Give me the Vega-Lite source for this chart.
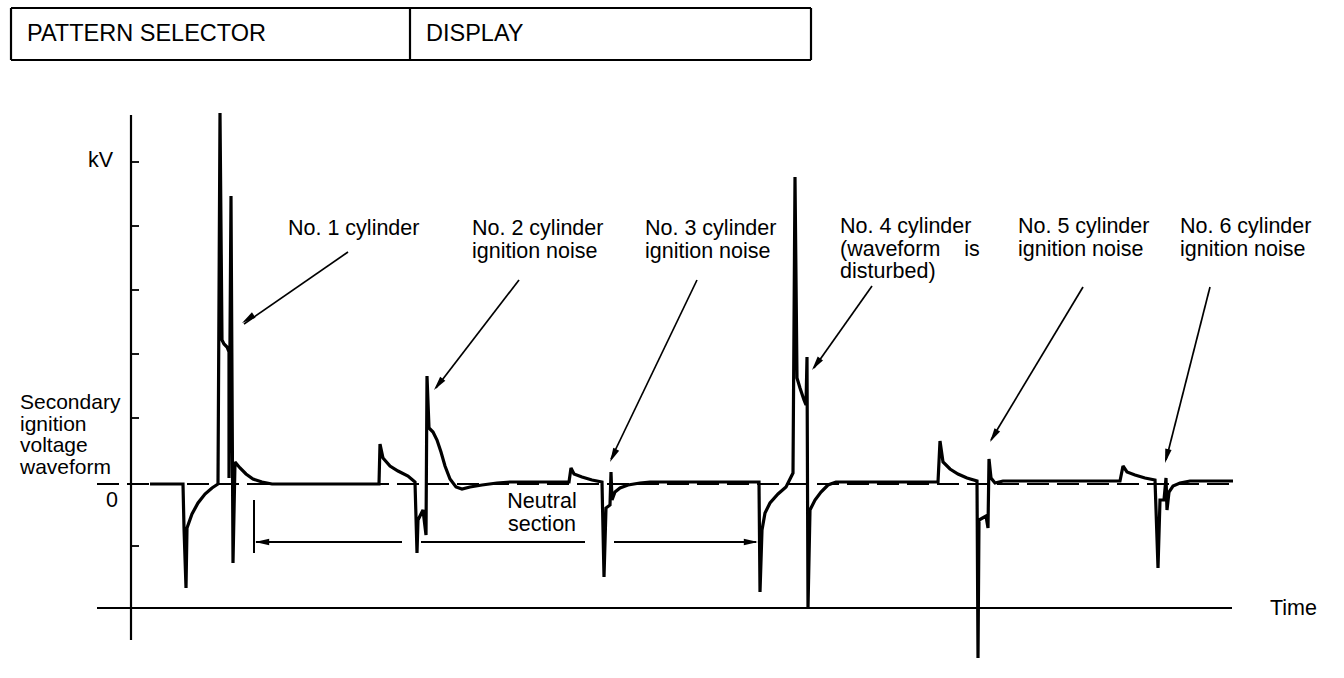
{
  "$schema": "https://vega.github.io/schema/vega-lite/v6.json",
  "width": 1344,
  "height": 678,
  "autosize": "none",
  "padding": 0,
  "background": "white",
  "config": {"view": {"stroke": null}},
  "datasets": {
    "box": [
      {"x1": 11, "y1": 476, "x2": 811, "y2": 476},
      {"x1": 11, "y1": 424, "x2": 811, "y2": 424},
      {"x1": 11, "y1": 476, "x2": 11, "y2": 424},
      {"x1": 811, "y1": 476, "x2": 811, "y2": 424},
      {"x1": 410, "y1": 476, "x2": 410, "y2": 424}
    ],
    "axes": [
      {"x1": 131, "y1": 369, "x2": 131, "y2": -156},
      {"x1": 97, "y1": -124, "x2": 1232, "y2": -124}
    ],
    "ticks": [
      {"x1": 131, "y1": 322, "x2": 139, "y2": 322},
      {"x1": 131, "y1": 258, "x2": 139, "y2": 258},
      {"x1": 131, "y1": 194, "x2": 139, "y2": 194},
      {"x1": 131, "y1": 130, "x2": 139, "y2": 130},
      {"x1": 131, "y1": 66, "x2": 139, "y2": 66},
      {"x1": 131, "y1": -62, "x2": 139, "y2": -62}
    ],
    "zero": [
      {"x1": 97, "y1": 0, "x2": 1233, "y2": 0}
    ],
    "dims": [
      {"x1": 254, "y1": -16, "x2": 254, "y2": -69},
      {"x1": 256, "y1": -58, "x2": 402, "y2": -58},
      {"x1": 421, "y1": -58, "x2": 585, "y2": -58},
      {"x1": 614, "y1": -58, "x2": 756, "y2": -58}
    ],
    "arrows": [
      {"x1": 348, "y1": 232, "x2": 244, "y2": 160},
      {"x1": 519, "y1": 204, "x2": 436, "y2": 96},
      {"x1": 697, "y1": 204, "x2": 611, "y2": 25},
      {"x1": 872, "y1": 198, "x2": 814, "y2": 116},
      {"x1": 1083, "y1": 197, "x2": 991, "y2": 44},
      {"x1": 1210, "y1": 197, "x2": 1166, "y2": 24}
    ],
    "heads": [
      {"x": 242, "y": 161, "angle": 236},
      {"x": 434, "y": 94, "angle": 218},
      {"x": 610, "y": 22, "angle": 206},
      {"x": 812, "y": 114, "angle": 216},
      {"x": 990, "y": 42, "angle": 211},
      {"x": 1165, "y": 21, "angle": 194},
      {"x": 255, "y": -58, "angle": 270},
      {"x": 758, "y": -58, "angle": 90}
    ],
    "wave": [
      {"t": 150, "v": 0}, {"t": 183, "v": 0}, {"t": 184, "v": -44}, {"t": 186, "v": -104}, {"t": 187, "v": -44},
      {"t": 192, "v": -30}, {"t": 198, "v": -19}, {"t": 205, "v": -10}, {"t": 212, "v": -4}, {"t": 218, "v": 0},
      {"t": 220, "v": 371}, {"t": 222, "v": 144}, {"t": 224, "v": 140}, {"t": 227, "v": 137}, {"t": 229, "v": 132},
      {"t": 229, "v": 6}, {"t": 231, "v": 288}, {"t": 233, "v": -79}, {"t": 235, "v": 22}, {"t": 240, "v": 16},
      {"t": 246, "v": 10}, {"t": 253, "v": 5}, {"t": 262, "v": 2}, {"t": 272, "v": 0}, {"t": 379, "v": 0},
      {"t": 380, "v": 40}, {"t": 383, "v": 26}, {"t": 390, "v": 18}, {"t": 398, "v": 13}, {"t": 408, "v": 8},
      {"t": 415, "v": 2}, {"t": 417, "v": -69}, {"t": 418, "v": -36}, {"t": 423, "v": -26}, {"t": 426, "v": -51},
      {"t": 427, "v": 108}, {"t": 429, "v": 56}, {"t": 433, "v": 52}, {"t": 437, "v": 44}, {"t": 441, "v": 32},
      {"t": 445, "v": 18}, {"t": 450, "v": 5}, {"t": 456, "v": -3}, {"t": 462, "v": -5}, {"t": 470, "v": -3},
      {"t": 482, "v": -1}, {"t": 497, "v": 1}, {"t": 510, "v": 2}, {"t": 569, "v": 2},
      {"t": 571, "v": 16}, {"t": 574, "v": 10}, {"t": 582, "v": 7}, {"t": 592, "v": 4}, {"t": 602, "v": 2},
      {"t": 604, "v": -93}, {"t": 606, "v": -24}, {"t": 610, "v": -21}, {"t": 611, "v": 12}, {"t": 612, "v": -16},
      {"t": 615, "v": -8}, {"t": 620, "v": -4}, {"t": 628, "v": -1}, {"t": 640, "v": 1}, {"t": 650, "v": 2},
      {"t": 759, "v": 2}, {"t": 760, "v": -108}, {"t": 762, "v": -46}, {"t": 765, "v": -29}, {"t": 770, "v": -19},
      {"t": 778, "v": -10}, {"t": 786, "v": -3}, {"t": 793, "v": 11}, {"t": 795, "v": 307}, {"t": 797, "v": 106},
      {"t": 800, "v": 96}, {"t": 804, "v": 84}, {"t": 806, "v": 79}, {"t": 807, "v": 127}, {"t": 808, "v": -124},
      {"t": 810, "v": -26}, {"t": 815, "v": -16}, {"t": 821, "v": -8}, {"t": 828, "v": -1}, {"t": 836, "v": 2},
      {"t": 938, "v": 2}, {"t": 940, "v": 43}, {"t": 943, "v": 22}, {"t": 950, "v": 15}, {"t": 958, "v": 10},
      {"t": 967, "v": 6}, {"t": 977, "v": 3}, {"t": 978, "v": -174}, {"t": 979, "v": -36}, {"t": 986, "v": -32},
      {"t": 988, "v": -44}, {"t": 989, "v": 25}, {"t": 991, "v": 6}, {"t": 995, "v": 1}, {"t": 1003, "v": 3},
      {"t": 1120, "v": 3}, {"t": 1123, "v": 18}, {"t": 1127, "v": 12}, {"t": 1135, "v": 9}, {"t": 1145, "v": 6},
      {"t": 1155, "v": 4}, {"t": 1158, "v": -84}, {"t": 1160, "v": -16}, {"t": 1164, "v": -16}, {"t": 1166, "v": 6},
      {"t": 1167, "v": -26}, {"t": 1169, "v": -8}, {"t": 1173, "v": -2}, {"t": 1180, "v": 1}, {"t": 1190, "v": 3},
      {"t": 1233, "v": 3}
    ],
    "labels": [
      {"x": 88, "y": 334, "label": "kV"},
      {"x": 288, "y": 266, "label": "No. 1 cylinder"},
      {"x": 472, "y": 266, "label": "No. 2 cylinder\nignition noise"},
      {"x": 645, "y": 266, "label": "No. 3 cylinder\nignition noise"},
      {"x": 840, "y": 268, "label": "No. 4 cylinder\n(waveform\u00a0\u00a0\u00a0\u00a0is\ndisturbed)"},
      {"x": 1018, "y": 268, "label": "No. 5 cylinder\nignition noise"},
      {"x": 1180, "y": 268, "label": "No. 6 cylinder\nignition noise"},
      {"x": 1270, "y": -114, "label": "Time"}
    ],
    "side": [
      {"x": 20, "y": 92, "label": "Secondary\nignition\nvoltage\nwaveform"}
    ],
    "clabels": [
      {"x": 112, "y": -6, "label": "0"},
      {"x": 542, "y": -7, "label": "Neutral\nsection"}
    ],
    "header": [
      {"x": 27, "y": 450, "label": "PATTERN SELECTOR"},
      {"x": 426, "y": 450, "label": "DISPLAY"}
    ]
  },
  "layer": [
    {
      "data": {"name": "box"},
      "mark": {"type": "rule", "color": "black", "strokeWidth": 2.2},
      "encoding": {
        "x": {"field": "x1", "type": "quantitative", "scale": {"domain": [0, 1344], "nice": false, "zero": false}, "axis": null},
        "y": {"field": "y1", "type": "quantitative", "scale": {"domain": [-194, 484], "nice": false, "zero": false}, "axis": null},
        "x2": {"field": "x2"},
        "y2": {"field": "y2"}
      }
    },
    {
      "data": {"name": "axes"},
      "mark": {"type": "rule", "color": "black", "strokeWidth": 2.2},
      "encoding": {
        "x": {"field": "x1", "type": "quantitative", "axis": null},
        "y": {"field": "y1", "type": "quantitative", "axis": null},
        "x2": {"field": "x2"},
        "y2": {"field": "y2"}
      }
    },
    {
      "data": {"name": "ticks"},
      "mark": {"type": "rule", "color": "black", "strokeWidth": 1.8},
      "encoding": {
        "x": {"field": "x1", "type": "quantitative", "axis": null},
        "y": {"field": "y1", "type": "quantitative", "axis": null},
        "x2": {"field": "x2"},
        "y2": {"field": "y2"}
      }
    },
    {
      "data": {"name": "zero"},
      "mark": {"type": "rule", "color": "black", "strokeWidth": 2, "strokeDash": [22, 8]},
      "encoding": {
        "x": {"field": "x1", "type": "quantitative", "axis": null},
        "y": {"field": "y1", "type": "quantitative", "axis": null},
        "x2": {"field": "x2"},
        "y2": {"field": "y2"}
      }
    },
    {
      "data": {"name": "dims"},
      "mark": {"type": "rule", "color": "black", "strokeWidth": 2},
      "encoding": {
        "x": {"field": "x1", "type": "quantitative", "axis": null},
        "y": {"field": "y1", "type": "quantitative", "axis": null},
        "x2": {"field": "x2"},
        "y2": {"field": "y2"}
      }
    },
    {
      "data": {"name": "wave"},
      "mark": {"type": "line", "color": "black", "strokeWidth": 3.2, "strokeJoin": "miter", "strokeMiterLimit": 2},
      "encoding": {
        "x": {"field": "t", "type": "quantitative", "axis": null},
        "y": {"field": "v", "type": "quantitative", "axis": null},
        "order": {"value": null}
      }
    },
    {
      "data": {"name": "arrows"},
      "mark": {"type": "rule", "color": "black", "strokeWidth": 1.7},
      "encoding": {
        "x": {"field": "x1", "type": "quantitative", "axis": null},
        "y": {"field": "y1", "type": "quantitative", "axis": null},
        "x2": {"field": "x2"},
        "y2": {"field": "y2"}
      }
    },
    {
      "data": {"name": "heads"},
      "mark": {"type": "point", "shape": "M0,0L0.55,2.4L-0.55,2.4Z", "filled": true, "color": "black", "opacity": 1, "size": 140},
      "encoding": {
        "x": {"field": "x", "type": "quantitative", "axis": null},
        "y": {"field": "y", "type": "quantitative", "axis": null},
        "angle": {"field": "angle", "type": "quantitative", "scale": null}
      }
    },
    {
      "data": {"name": "labels"},
      "mark": {"type": "text", "align": "left", "baseline": "top", "lineBreak": "\n", "lineHeight": 22.5, "font": "Liberation Sans", "fontSize": 21.5, "color": "black"},
      "encoding": {
        "x": {"field": "x", "type": "quantitative", "axis": null},
        "y": {"field": "y", "type": "quantitative", "axis": null},
        "text": {"field": "label"}
      }
    },
    {
      "data": {"name": "side"},
      "mark": {"type": "text", "align": "left", "baseline": "top", "lineBreak": "\n", "lineHeight": 21.5, "font": "Liberation Sans", "fontSize": 21, "color": "black"},
      "encoding": {
        "x": {"field": "x", "type": "quantitative", "axis": null},
        "y": {"field": "y", "type": "quantitative", "axis": null},
        "text": {"field": "label"}
      }
    },
    {
      "data": {"name": "clabels"},
      "mark": {"type": "text", "align": "center", "baseline": "top", "lineBreak": "\n", "lineHeight": 23, "font": "Liberation Sans", "fontSize": 21.5, "color": "black"},
      "encoding": {
        "x": {"field": "x", "type": "quantitative", "axis": null},
        "y": {"field": "y", "type": "quantitative", "axis": null},
        "text": {"field": "label"}
      }
    },
    {
      "data": {"name": "header"},
      "mark": {"type": "text", "align": "left", "baseline": "middle", "font": "Liberation Sans", "fontSize": 23.5, "color": "black"},
      "encoding": {
        "x": {"field": "x", "type": "quantitative", "axis": null},
        "y": {"field": "y", "type": "quantitative", "axis": null},
        "text": {"field": "label"}
      }
    }
  ]
}
